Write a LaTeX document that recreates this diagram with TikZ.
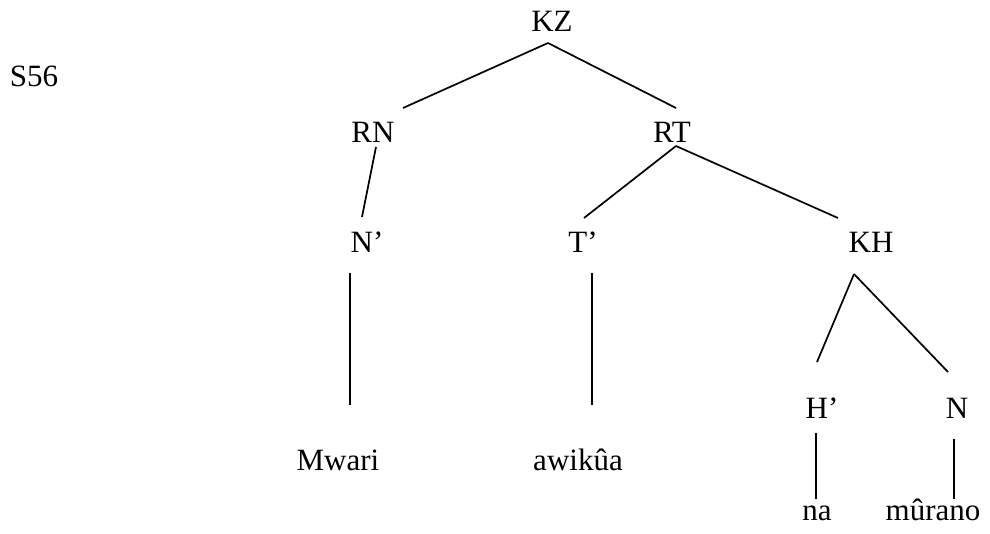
\documentclass[tikz,border=0pt]{standalone}
\usepackage{fontspec}
\setmainfont{Liberation Serif}
\begin{document}
\begin{tikzpicture}[x=1pt,y=-1pt,
  lbl/.style={inner sep=0pt,anchor=base,font=\fontsize{31}{36}\selectfont},
  edge/.style={line width=1.7pt,black}]
\useasboundingbox (0,0) rectangle (990,533);
\node[lbl] (S56) at (34,86) {S56};
\node[lbl] (KZ) at (552,31) {KZ};
\node[lbl] (RN) at (373,142) {RN};
\node[lbl] (RT) at (672,142) {RT};
\node[lbl] (Np) at (367,252) {N’};
\node[lbl] (Tp) at (583,252) {T’};
\node[lbl] (KH) at (871,252) {KH};
\node[lbl] (Hp) at (822,418) {H’};
\node[lbl] (N) at (957,418) {N};
\node[lbl] (Mwari) at (338,470) {Mwari};
\node[lbl] (awikua) at (578,470) {awikûa};
\node[lbl] (na) at (817,520) {na};
\node[lbl] (murano) at (933,520) {mûrano};
\draw[edge] ([shift={(-4,12)}]KZ.base) -- ([shift={(30,-34)}]RN.base);
\draw[edge] ([shift={(-4,12)}]KZ.base) -- ([shift={(4,-34)}]RT.base);
\draw[edge] ([shift={(3,5)}]RN.base) -- ([shift={(-5,-35)}]Np.base);
\draw[edge] ([shift={(4,4)}]RT.base) -- ([shift={(1,-34)}]Tp.base);
\draw[edge] ([shift={(4,4)}]RT.base) -- ([shift={(-33,-34)}]KH.base);
\draw[edge] ([shift={(-17,21)}]Np.base) -- ([shift={(12,-65)}]Mwari.base);
\draw[edge] ([shift={(9,21)}]Tp.base) -- ([shift={(14,-65)}]awikua.base);
\draw[edge] ([shift={(-17,22)}]KH.base) -- ([shift={(-5,-56)}]Hp.base);
\draw[edge] ([shift={(-17,22)}]KH.base) -- ([shift={(-9,-46)}]N.base);
\draw[edge] ([shift={(-6,15)}]Hp.base) -- ([shift={(-1,-21)}]na.base);
\draw[edge] ([shift={(-3,21)}]N.base) -- ([shift={(21,-21)}]murano.base);
\end{tikzpicture}
\end{document}
